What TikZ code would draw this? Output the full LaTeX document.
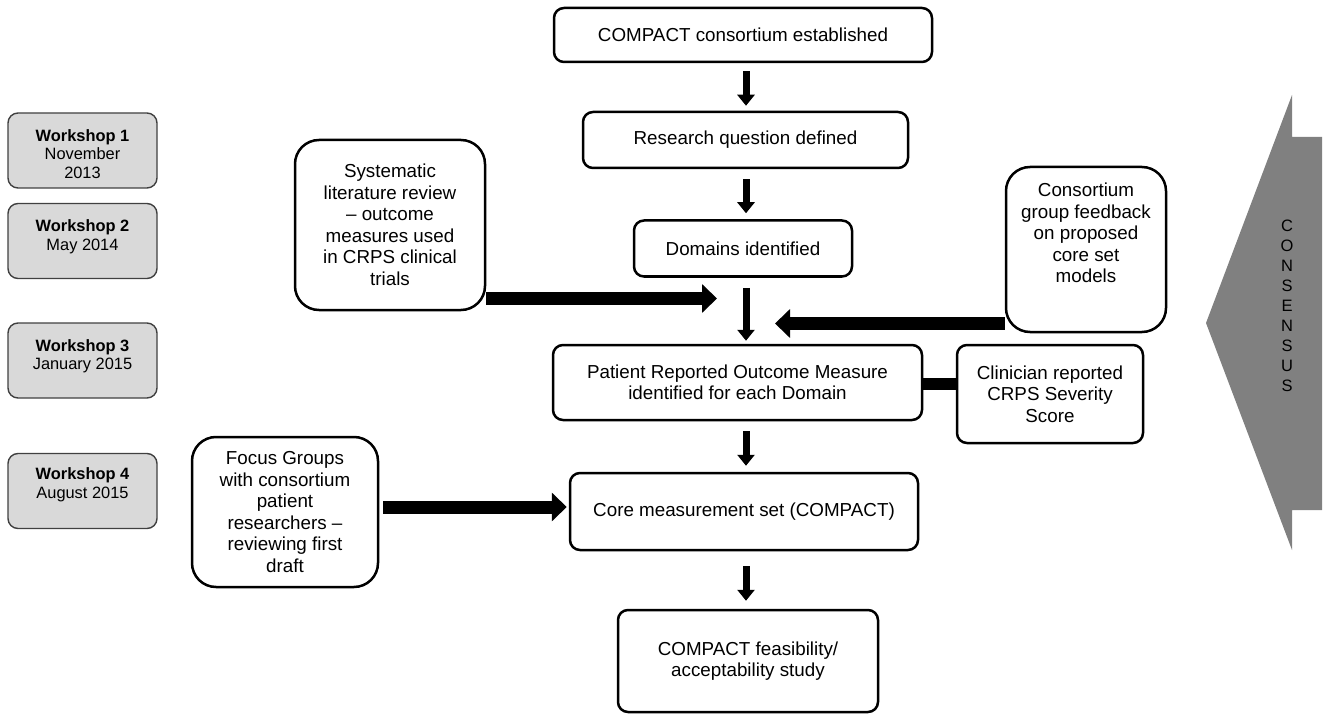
\documentclass[tikz,border=0pt]{standalone}
\usepackage{fontspec}
\setmainfont{Liberation Sans}
\usetikzlibrary{positioning,arrows.meta}
\definecolor{consgray}{HTML}{808080}
\definecolor{wsgray}{HTML}{D9D9D9}

\begin{document}
\begin{tikzpicture}[x=1pt, y=-1pt,
  stepbox/.style={draw=black, line width=2.5pt, rounded corners=10pt, align=center, inner sep=0pt, font=\fontsize{18.8}{21.5}\selectfont},
  sidebox/.style={stepbox, rounded corners=24pt},
  wbox/.style={draw=black!75, fill=wsgray, line width=1.4pt, rounded corners=10pt, minimum width=149pt, minimum height=75pt, inner sep=0pt},
  wtext/.style={align=center, inner sep=0pt, font=\fontsize{16.4}{18.5}\selectfont},
  downarrow/.style={line width=7pt, -{Triangle[length=11pt,width=17pt]}},
  bigarrow/.style={line width=13pt, -{Triangle[length=15pt,width=28pt]}},
  joinbar/.style={line width=12pt},
  constext/.style={align=center, inner sep=0pt, font=\fontsize{16.5}{20}\selectfont}
]
\useasboundingbox (0,0) rectangle (1331,714);

% workshops
\node[wbox] (w1) at (82.5,150.5) {};
\node[wtext, below=17pt of w1.north] (w1t) {\textbf{Workshop 1}\\November\\2013};
\node[wbox] (w2) at (82.5,241) {};
\node[wtext, below=17pt of w2.north] (w2t) {\textbf{Workshop 2}\\May 2014};
\node[wbox] (w3) at (82.5,360.5) {};
\node[wtext, below=17pt of w3.north] (w3t) {\textbf{Workshop 3}\\January 2015};
\node[wbox] (w4) at (82.5,491) {};
\node[wtext, below=15pt of w4.north] (w4t) {\textbf{Workshop 4}\\August 2015};

% main steps
\node[stepbox, minimum width=378pt, minimum height=54pt] (est) at (743,35) {COMPACT consortium established};
\node[stepbox, minimum width=325pt, minimum height=56pt] (rq) at (745.5,140) {Research question defined};
\node[stepbox, minimum width=218pt, minimum height=56pt] (dom) at (743,248.5) {Domains identified};
\node[stepbox, minimum width=369pt, minimum height=75pt] (prom) at (737.5,382.5) {Patient Reported Outcome Measure\\identified for each Domain};
\node[stepbox, minimum width=348pt, minimum height=77pt] (core) at (744,511.5) {Core measurement set (COMPACT)};
\node[stepbox, minimum width=260pt, minimum height=102pt] (feas) at (748,661) {COMPACT feasibility/\\acceptability study};

% inputs
\node[sidebox, minimum width=190pt, minimum height=170pt] (sys) at (390,225) {Systematic\\literature review\\– outcome\\measures used\\in CRPS clinical\\trials};
\node[sidebox, minimum width=160pt, minimum height=165pt] (cons) at (1086,249.5) {Consortium\\group feedback\\on proposed\\core set\\models\\[12pt]};
\node[stepbox, minimum width=186pt, minimum height=98pt] (clin) at (1050,394) {Clinician reported\\CRPS Severity\\Score};
\node[sidebox, minimum width=186pt, minimum height=150pt] (focus) at (285,512) {Focus Groups\\with consortium\\patient\\researchers –\\reviewing first\\draft};

\coordinate (spine) at (746,0);
\coordinate (sysin) at (717,298.5);
\coordinate (consin) at (775,323.5);

\draw[downarrow, shorten <=8pt, shorten >=5pt] (spine |- est.south) -- (spine |- rq.north);
\draw[downarrow, shorten <=10pt, shorten >=6pt] (spine |- rq.south) -- (spine |- dom.north);
\draw[downarrow, shorten <=10pt, shorten >=3pt] (spine |- dom.south) -- (spine |- prom.north);
\draw[downarrow, shorten <=10pt, shorten >=6pt] (spine |- prom.south) -- (spine |- core.north);
\draw[downarrow, shorten <=15pt, shorten >=8pt] (spine |- core.south) -- (spine |- feas.north);

\draw[bigarrow] (sys.east |- sysin) -- (sysin);
\draw[bigarrow] (cons.west |- consin) -- (consin);
\draw[bigarrow, shorten <=4pt, shorten >=2pt] ([yshift=5pt]focus.east) -- ([yshift=5pt]focus.east -| core.west);
\draw[joinbar] ([yshift=-1.5pt]prom.east) -- ([yshift=-1.5pt]prom.east -| clin.west);

% consensus
\fill[consgray] (1292,95) -- (1292,137) -- (1322,137) -- (1322,510) -- (1292,510) -- (1292,550) -- (1206,323) -- cycle;
\node[constext] (conslbl) at (1287,306) {C\\O\\N\\S\\E\\N\\S\\U\\S};

\end{tikzpicture}
\end{document}
